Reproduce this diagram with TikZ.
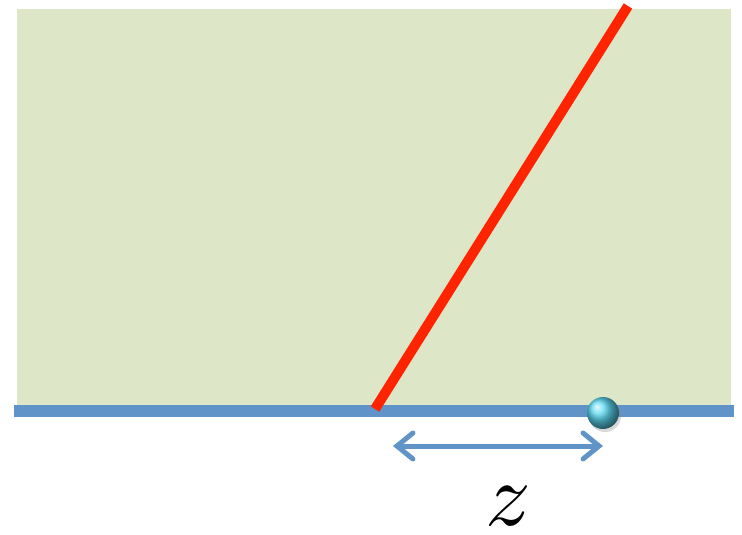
\documentclass[tikz,border=0pt]{standalone}
\usetikzlibrary{positioning,arrows.meta,shadows}
\definecolor{bggreen}{RGB}{222,230,200}
\definecolor{linblue}{RGB}{96,148,200}
\definecolor{redline}{RGB}{255,36,0}
\definecolor{ballcyan}{RGB}{90,215,240}
\begin{document}
\begin{tikzpicture}[x=1pt,y=-1pt]
    \tikzstyle{ball}=[circle,minimum size=32pt,inner sep=0pt,ball color=ballcyan,drop shadow={shadow xshift=2pt,shadow yshift=-3pt,opacity=0.3}]
    \tikzstyle{dist}=[linblue,line width=5pt,{Straight Barb[length=16pt,width=26pt,line cap=round]}-{Straight Barb[length=16pt,width=26pt,line cap=round]}]
    \useasboundingbox (0,0) rectangle (742,535);
    \fill[bggreen] (17,9) rectangle (731,405);
    \draw[linblue,line width=12pt] (14,411) -- (734,411);
    \draw[redline,line width=10pt] (375,409) -- (628,6);
    \node[ball] (bead) at (603,413) {};
    \coordinate (start) at (393,446);
    \coordinate (end) at (603,446);
    \draw[dist] (start) -- (end);
    \node[scale=9,inner sep=0pt] (zlabel) at (508,506) {$z$};
\end{tikzpicture}
\end{document}
